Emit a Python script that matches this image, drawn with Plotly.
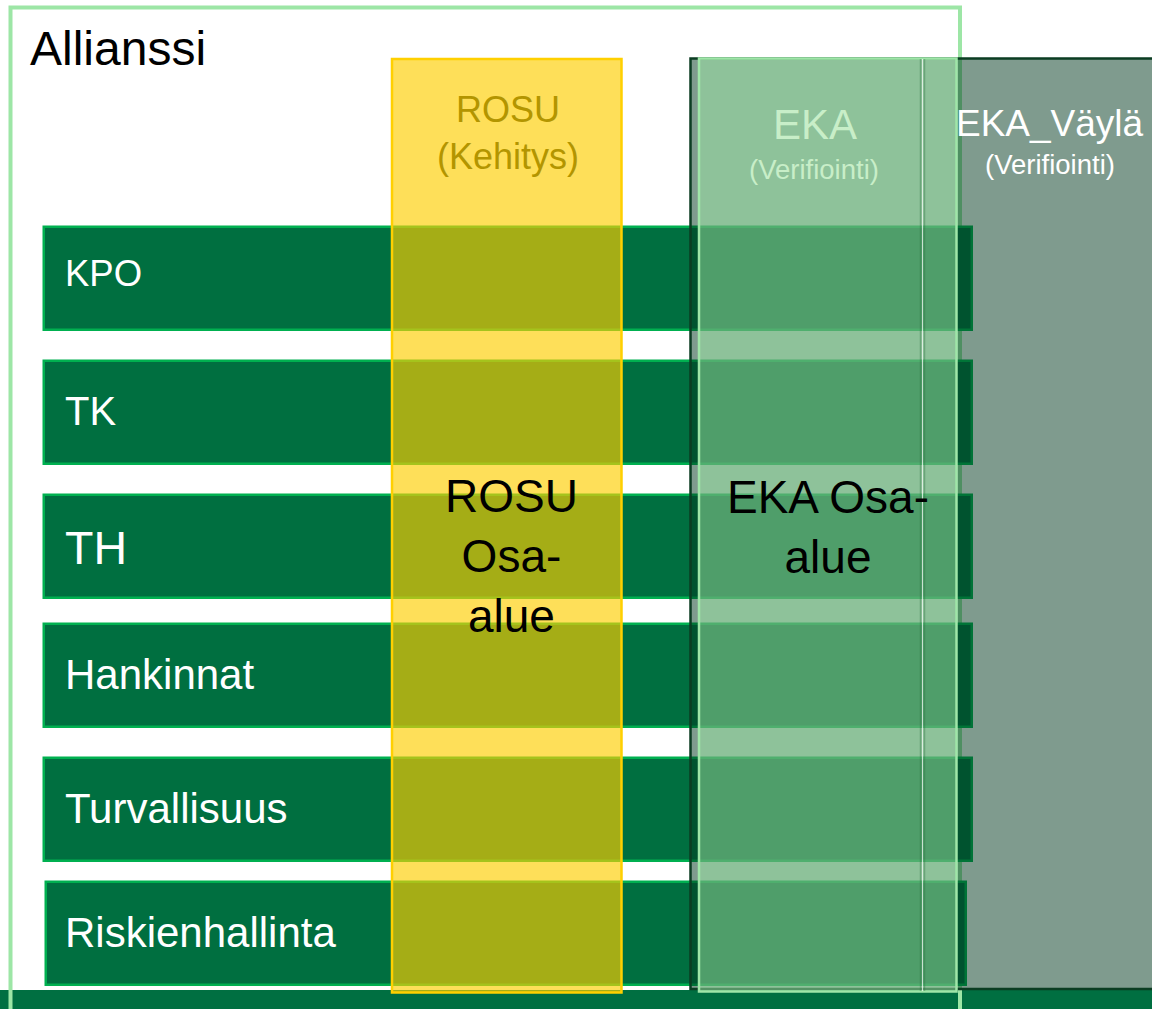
import plotly.graph_objects as go

# ---- diagram content ----
row_labels = ["KPO", "TK", "TH", "Hankinnat", "Turvallisuus", "Riskienhallinta"]
row_font_sizes = [36.5, 40, 46.5, 42, 42, 42]
# vertical extent of each row band (pixel units of the canvas scale)
row_top = [227, 361, 495, 624, 758, 882]
row_bottom = [330, 464, 598, 727, 861, 985]
row_start = [44, 44, 44, 44, 44, 46]
row_end = [972, 972, 972, 972, 972, 966]

title_text = "Allianssi"
zone_titles = ["ROSU<br>(Kehitys)", "EKA", "(Verifiointi)", "EKA_Väylä", "(Verifiointi)"]
zone_labels = ["ROSU<br>Osa-<br>alue", "EKA Osa-<br>alue"]

W, H = 1152, 1009
FONT = "Liberation Sans, Arial, sans-serif"

fig = go.Figure()

centers = [(t + b) / 2 for t, b in zip(row_top, row_bottom)]
heights = [b - t for t, b in zip(row_top, row_bottom)]
lengths = [e - s for s, e in zip(row_start, row_end)]

fig.add_trace(go.Bar(
    orientation="h",
    y=centers,
    x=lengths,
    base=row_start,
    width=heights,
    marker=dict(color="#006f40", line=dict(color="#00b050", width=2.5)),
    hoverinfo="skip",
    showlegend=False,
))

shapes = []
# bottom band (below traces)
shapes.append(dict(type="rect", xref="x", yref="y", x0=-5, x1=W + 5, y0=990, y1=H + 5,
                   fillcolor="#006f41", line=dict(width=0), layer="below"))
# Allianssi outline (below traces, above band)
shapes.append(dict(type="rect", xref="x", yref="y", x0=10.5, x1=960, y0=7.5, y1=H + 10,
                   fillcolor="rgba(0,0,0,0)", line=dict(color="#9de6a6", width=4), layer="below"))
# EKA_Väylä zone
shapes.append(dict(type="rect", xref="x", yref="y", x0=690.5, x1=W + 10, y0=58.5, y1=989,
                   fillcolor="rgba(0,55,29,0.5)", line=dict(color="#0b3d22", width=2.5), layer="above"))
# EKA zone
shapes.append(dict(type="rect", xref="x", yref="y", x0=699, x1=956.5, y0=58.5, y1=991.5,
                   fillcolor="rgba(158,233,166,0.5)", line=dict(color="#9fe6a8", width=2.5), layer="above"))
for xv, col, w in [(920.5, "rgba(40,110,60,0.35)", 1.5), (922.5, "rgba(255,255,255,0.7)", 1),
                   (924.5, "rgba(40,110,60,0.35)", 1.5)]:
    shapes.append(dict(type="line", xref="x", yref="y", x0=xv, x1=xv, y0=59, y1=991,
                       line=dict(color=col, width=w), layer="above"))
# ROSU zone
shapes.append(dict(type="rect", xref="x", yref="y", x0=392, x1=621.5, y0=59, y1=992.5,
                   fillcolor="rgba(254,206,0,0.65)", line=dict(color="#ffd000", width=2.5), layer="above"))

annotations = []
annotations.append(dict(x=28, y=48, text=title_text, xanchor="left", yanchor="middle",
                        font=dict(family=FONT, size=48, color="black")))
label_shift = [-5.5, -1.5, 1.5, -1, -1, -1.5]
for lab, fs, c, d in zip(row_labels, row_font_sizes, centers, label_shift):
    annotations.append(dict(x=63, y=c + d, text=lab, xanchor="left", yanchor="middle",
                            font=dict(family=FONT, size=fs, color="white")))
# zone titles
annotations.append(dict(x=508, y=133, text=zone_titles[0], xanchor="center", yanchor="middle",
                        font=dict(family=FONT, size=36, color="#b39500")))
annotations.append(dict(x=815, y=124, text=zone_titles[1], xanchor="center", yanchor="middle",
                        font=dict(family=FONT, size=42, color="#c8eec8")))
annotations.append(dict(x=814, y=169, text=zone_titles[2], xanchor="center", yanchor="middle",
                        font=dict(family=FONT, size=27.5, color="#c8eec8")))
annotations.append(dict(x=1050, y=123, text=zone_titles[3], xanchor="center", yanchor="middle",
                        font=dict(family=FONT, size=37, color="white")))
annotations.append(dict(x=1050, y=164, text=zone_titles[4], xanchor="center", yanchor="middle",
                        font=dict(family=FONT, size=27.5, color="white")))
# zone inner labels
annotations.append(dict(x=511, y=556, text=zone_labels[0], xanchor="center", yanchor="middle",
                        font=dict(family=FONT, size=46, color="black")))
annotations.append(dict(x=828, y=527, text=zone_labels[1], xanchor="center", yanchor="middle",
                        font=dict(family=FONT, size=46, color="black")))
for a in annotations:
    a.update(xref="x", yref="y", showarrow=False)

fig.update_layout(
    width=W, height=H,
    margin=dict(l=0, r=0, t=0, b=0, pad=0),
    paper_bgcolor="white", plot_bgcolor="white",
    xaxis=dict(range=[0, W], visible=False, fixedrange=True),
    yaxis=dict(range=[H, 0], visible=False, fixedrange=True),
    shapes=shapes, annotations=annotations,
    bargap=0, showlegend=False,
)

fig.write_html(
    "out.html",
    config={"displayModeBar": False},
    post_script="document.body.style.margin='0';document.body.style.overflow='hidden';",
)
